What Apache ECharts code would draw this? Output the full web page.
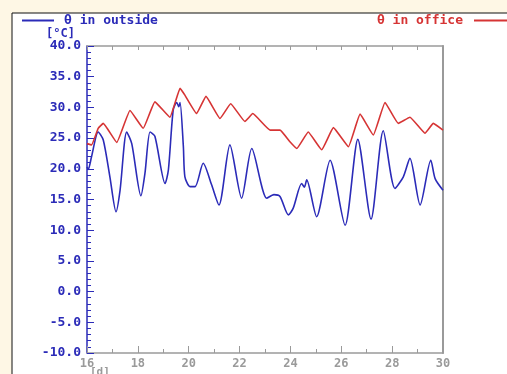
<!DOCTYPE html>
<html>
<head>
<meta charset="utf-8">
<script src="https://cdn.jsdelivr.net/npm/echarts@6/dist/echarts.min.js"></script>
<style>
html,body{margin:0;padding:0;background:#FEF7E5;}
#chart{width:507px;height:374px;}
</style>
</head>
<body>
<div id="chart"></div>
<script>
// Outside temperature (blue)
const outsideDays = [16.0,16.05,16.18,16.44,16.64,16.90,17.14,17.30,17.56,17.76,18.12,18.28,18.48,18.67,19.07,19.20,19.39,19.53,19.61,19.66,19.79,19.85,20.05,20.25,20.57,20.90,21.19,21.62,22.08,22.48,23.07,23.35,23.59,23.92,24.11,24.44,24.55,24.64,25.03,25.56,26.15,26.65,27.17,27.65,28.11,28.44,28.70,29.10,29.52,29.69,30.0];
const outsideTemp = [20.3,19.9,22.0,26.0,24.7,18.7,13.0,16.5,26.0,24.1,15.6,19.3,26.0,25.3,17.6,19.8,29.6,30.8,30.1,30.8,23.6,18.7,17.1,17.1,20.9,17.4,14.1,23.9,15.2,23.3,15.2,15.8,15.5,12.5,13.6,17.6,17.0,18.2,12.2,21.4,10.8,24.8,11.8,26.2,16.8,18.7,21.7,14.1,21.4,18.4,16.5];
// Office temperature (red)
const officeDays = [16.0,16.18,16.44,16.64,17.17,17.69,18.21,18.67,19.26,19.66,19.85,20.31,20.68,21.23,21.65,22.21,22.52,23.20,23.59,23.98,24.25,24.70,25.23,25.69,26.28,26.74,27.26,27.72,28.24,28.70,29.29,29.62,30.0];
const officeTemp = [24.1,23.9,26.6,27.4,24.3,29.5,26.6,30.9,28.4,33.1,32.0,29.0,31.8,28.2,30.6,27.7,29.0,26.3,26.3,24.4,23.3,26.0,23.1,26.7,23.6,28.9,25.5,30.8,27.4,28.4,25.8,27.4,26.3];
const seriesNames = ['\u03b8 in outside','\u03b8 in office'];

const blue = '#2B2BB8';
const red = '#D63434';
const gray = '#9A9A9A';
const mono = '"DejaVu Sans Mono", monospace';

const zip = (a,b) => a.map((v,i)=>[v,b[i]]);

const chart = echarts.init(document.getElementById('chart'));
chart.setOption({
  backgroundColor: '#FEF7E5',
  animation: false,
  graphic: [
    {type:'rect', z:-10, shape:{x:12,y:13,width:520,height:380}, style:{fill:'#ffffff', stroke:'#111111', lineWidth:1}},
    {type:'text', left:90, top:367, style:{text:'[d]', fill:gray, font:'bold 11px '+mono}}
  ],
  legend: [
    {data:[seriesNames[0]], left:22, top:14, padding:0, itemWidth:32, itemHeight:2, itemGap:0, icon:'rect',
     textStyle:{color:blue, fontFamily:mono, fontWeight:'bold', fontSize:13, padding:[0,0,0,5]}},
    {data:[seriesNames[1]], right:0, top:14, padding:0, align:'right', itemWidth:33, itemHeight:2, itemGap:0, icon:'rect',
     textStyle:{color:red, fontFamily:mono, fontWeight:'bold', fontSize:13, padding:[0,6,0,0]}}
  ],
  grid: {left:87, top:46, right:64, bottom:21, containLabel:false},
  xAxis: [
    {type:'value', min:16, max:30, interval:2, position:'bottom',
     axisLine:{show:true, onZero:false, lineStyle:{color:gray, width:1.5}},
     axisTick:{show:true, inside:true, length:7, lineStyle:{color:gray}},
     minorTick:{show:true, splitNumber:2, length:4, lineStyle:{color:gray}},
     splitLine:{show:false},
     axisLabel:{color:gray, fontFamily:mono, fontWeight:'bold', fontSize:12, margin:5}},
    {type:'value', min:16, max:30, interval:1, position:'top',
     axisLine:{show:true, onZero:false, lineStyle:{color:gray, width:1.5}},
     axisTick:{show:true, inside:true, length:4, lineStyle:{color:gray}},
     splitLine:{show:false}, axisLabel:{show:false}}
  ],
  yAxis: [
    {type:'value', min:-10, max:40, interval:5, position:'left',
     name:'[\u00b0C]', nameLocation:'end', nameGap:3,
     nameTextStyle:{color:blue, fontFamily:mono, fontWeight:'bold', fontSize:12, align:'right', padding:[0,12,0,0]},
     axisLine:{show:true, onZero:false, lineStyle:{color:blue, width:1.5}},
     axisTick:{show:true, inside:true, length:7, lineStyle:{color:blue}},
     minorTick:{show:true, splitNumber:5, length:4, lineStyle:{color:blue}},
     splitLine:{show:false},
     axisLabel:{color:blue, fontFamily:mono, fontWeight:'bold', fontSize:13, margin:6,
       formatter: v => v.toFixed(1)}},
    {type:'value', min:-10, max:40, interval:5, position:'right',
     axisLine:{show:true, onZero:false, lineStyle:{color:gray, width:2}},
     axisTick:{show:false}, splitLine:{show:false}, axisLabel:{show:false}}
  ],
  series: [
    {name:seriesNames[0], type:'line', data:zip(outsideDays,outsideTemp), showSymbol:false, smooth:0.25,
     itemStyle:{color:blue}, lineStyle:{color:blue, width:1.6}},
    {name:seriesNames[1], type:'line', data:zip(officeDays,officeTemp), showSymbol:false, smooth:0.1,
     itemStyle:{color:red}, lineStyle:{color:red, width:1.6}}
  ]
});
</script>
</body>
</html>
